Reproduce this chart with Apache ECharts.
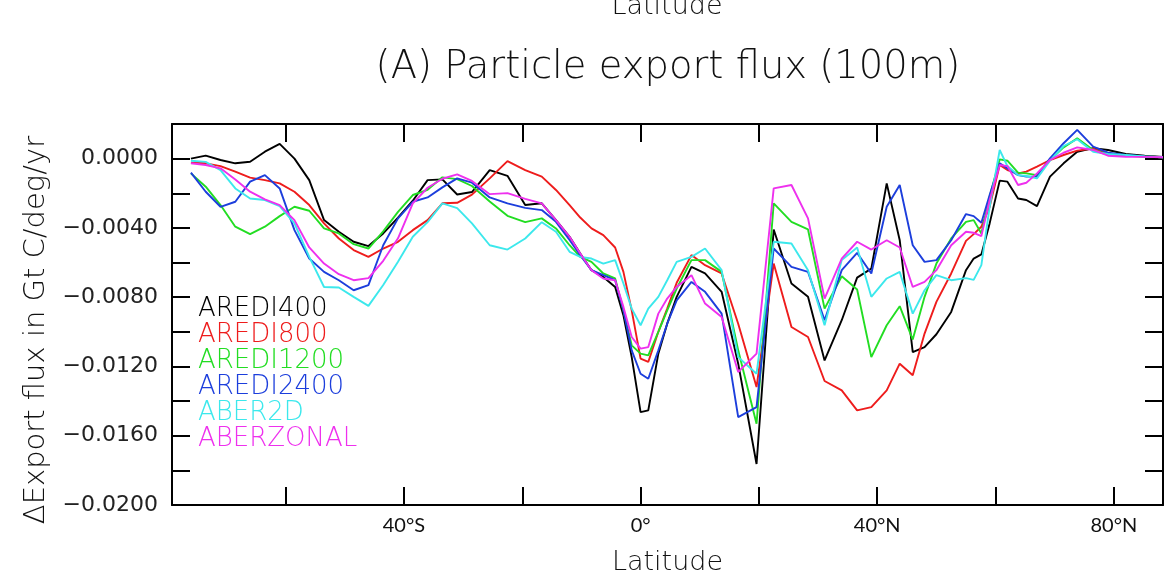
<!DOCTYPE html>
<html>
<head>
<meta charset="utf-8">
<script src="https://cdn.jsdelivr.net/npm/echarts@6/dist/echarts.min.js"></script>
<style>
html,body{margin:0;padding:0;background:#fff;}
#chart{width:1172px;height:577px;}
</style>
</head>
<body>
<div id="chart"></div>
<script>
// Latitudes (degrees, negative = south)
const lats = [-76, -73.5, -71, -68.5, -66, -63.5, -61, -58.5, -56, -53.5, -51, -48.5, -46,
  -43.5, -41, -38.5, -36, -33.5, -31, -28.5, -25.5, -22.5, -19.5, -16.7, -14.3,
  -12, -10.2, -8.3, -6.3, -4.3, -2.9, -1.5, 0, 1.3, 3, 4.5, 6.1, 8.6, 10.9, 13.7, 16.5, 19.6,
  22.5, 25.5, 28.3, 31.1, 34, 36.6, 39, 41.6, 43.8, 46, 48, 50, 52.5, 55,
  56.3, 57.6, 59, 60.7, 62, 63.8, 65.2, 67, 69.2, 71.5, 73.8, 76.5, 79, 82, 85.2, 88.3];

const seriesNames = ['AREDI400', 'AREDI800', 'AREDI1200', 'AREDI2400', 'ABER2D', 'ABERZONAL'];
const seriesColors = ['#000000', '#ee1c1c', '#22dd22', '#1c3edc', '#3ce8ec', '#ee30ee'];

const aredi400 = [0.00000, 0.00017, -0.00008, -0.00027, -0.00018, 0.00040, 0.00085, 0.00000, -0.00124, -0.00355, -0.00422, -0.00480, -0.00505,
  -0.00432, -0.00341, -0.00243, -0.00124, -0.00120, -0.00207, -0.00193, -0.00066, -0.00099, -0.00268, -0.00258, -0.00355,
  -0.00451, -0.00548, -0.00644, -0.00683, -0.00741, -0.00905, -0.01146, -0.01464, -0.01454, -0.01126, -0.00953, -0.00798, -0.00625, -0.00663, -0.00769, -0.01184, -0.01763,
  -0.00409, -0.00721, -0.00798, -0.01165, -0.00933, -0.00687, -0.00635, -0.00143, -0.00471, -0.01117, -0.01088, -0.01014, -0.00885, -0.00644,
  -0.00577, -0.00553, -0.00374, -0.00127, -0.00133, -0.00230, -0.00239, -0.00274, -0.00104, -0.00027, 0.00040, 0.00061, 0.00050, 0.00027, 0.00017, 0.00010];

const aredi800 = [-0.00023, -0.00027, -0.00043, -0.00075, -0.00110, -0.00124, -0.00143, -0.00191, -0.00268, -0.00374, -0.00461, -0.00528, -0.00567,
  -0.00519, -0.00480, -0.00413, -0.00355, -0.00258, -0.00255, -0.00208, -0.00114, -0.00014, -0.00066, -0.00104, -0.00181,
  -0.00268, -0.00340, -0.00403, -0.00442, -0.00513, -0.00654, -0.00876, -0.01155, -0.01174, -0.01000, -0.00866, -0.00717, -0.00557, -0.00615, -0.00663, -0.00953, -0.01319,
  -0.00606, -0.00972, -0.01030, -0.01284, -0.01338, -0.01454, -0.01435, -0.01338, -0.01184, -0.01251, -0.01010, -0.00827, -0.00663, -0.00475,
  -0.00436, -0.00393, -0.00278, -0.00037, -0.00066, -0.00085, -0.00075, -0.00046, -0.00008, 0.00021, 0.00046, 0.00058, 0.00031, 0.00017, 0.00012, 0.00008];

const aredi1200 = [-0.00085, -0.00162, -0.00268, -0.00393, -0.00436, -0.00393, -0.00332, -0.00278, -0.00301, -0.00403, -0.00432, -0.00494, -0.00519,
  -0.00420, -0.00307, -0.00210, -0.00180, -0.00108, -0.00118, -0.00158, -0.00247, -0.00330, -0.00367, -0.00345, -0.00403,
  -0.00500, -0.00567, -0.00596, -0.00663, -0.00692, -0.00876, -0.01078, -0.01126, -0.01136, -0.01000, -0.00876, -0.00750, -0.00586, -0.00586, -0.00654, -0.01107, -0.01531,
  -0.00258, -0.00365, -0.00409, -0.00866, -0.00679, -0.00756, -0.01146, -0.00962, -0.00852, -0.01045, -0.00798, -0.00606, -0.00461, -0.00365,
  -0.00355, -0.00432, -0.00220, -0.00004, -0.00012, -0.00081, -0.00085, -0.00095, -0.00008, 0.00065, 0.00117, 0.00050, 0.00025, 0.00017, 0.00012, 0.00008];

const aredi2400 = [-0.00081, -0.00191, -0.00278, -0.00249, -0.00133, -0.00095, -0.00172, -0.00413, -0.00577, -0.00654, -0.00702, -0.00760, -0.00730,
  -0.00500, -0.00345, -0.00249, -0.00224, -0.00166, -0.00114, -0.00139, -0.00224, -0.00258, -0.00284, -0.00297, -0.00365,
  -0.00470, -0.00557, -0.00644, -0.00673, -0.00702, -0.00876, -0.01107, -0.01242, -0.01271, -0.01107, -0.00953, -0.00818, -0.00712, -0.00769, -0.00895, -0.01493, -0.01435,
  -0.00519, -0.00625, -0.00654, -0.00933, -0.00644, -0.00544, -0.00663, -0.00278, -0.00152, -0.00500, -0.00596, -0.00586, -0.00471, -0.00320,
  -0.00332, -0.00370, -0.00210, -0.00027, -0.00056, -0.00095, -0.00104, -0.00104, 0.00002, 0.00089, 0.00166, 0.00069, 0.00035, 0.00021, 0.00012, 0.00008];

const aber2d = [-0.00012, -0.00019, -0.00066, -0.00172, -0.00230, -0.00239, -0.00274, -0.00374, -0.00567, -0.00741, -0.00744, -0.00798, -0.00850,
  -0.00730, -0.00596, -0.00451, -0.00367, -0.00258, -0.00286, -0.00374, -0.00500, -0.00525, -0.00461, -0.00367, -0.00422,
  -0.00538, -0.00567, -0.00577, -0.00606, -0.00586, -0.00721, -0.00866, -0.00962, -0.00866, -0.00798, -0.00702, -0.00596, -0.00567, -0.00519, -0.00644, -0.01146, -0.01242,
  -0.00480, -0.00490, -0.00644, -0.00962, -0.00586, -0.00513, -0.00798, -0.00692, -0.00654, -0.00895, -0.00760, -0.00673, -0.00702, -0.00690,
  -0.00700, -0.00615, -0.00278, 0.00050, -0.00043, -0.00095, -0.00100, -0.00114, -0.00012, 0.00073, 0.00112, 0.00040, 0.00027, 0.00021, 0.00012, 0.00008];

const aberzonal = [-0.00027, -0.00037, -0.00056, -0.00120, -0.00191, -0.00235, -0.00268, -0.00355, -0.00513, -0.00606, -0.00667, -0.00702, -0.00690,
  -0.00590, -0.00460, -0.00258, -0.00168, -0.00116, -0.00091, -0.00129, -0.00205, -0.00199, -0.00232, -0.00258, -0.00355,
  -0.00451, -0.00548, -0.00644, -0.00692, -0.00702, -0.00856, -0.01030, -0.01097, -0.01088, -0.00895, -0.00808, -0.00741, -0.00673, -0.00837, -0.00914, -0.01232, -0.01126,
  -0.00172, -0.00152, -0.00345, -0.00808, -0.00577, -0.00480, -0.00525, -0.00471, -0.00513, -0.00741, -0.00712, -0.00644, -0.00500, -0.00422,
  -0.00428, -0.00447, -0.00239, -0.00037, -0.00043, -0.00152, -0.00139, -0.00085, -0.00008, 0.00034, 0.00065, 0.00050, 0.00017, 0.00011, 0.00010, 0.00008];

const seriesValues = [aredi400, aredi800, aredi1200, aredi2400, aber2d, aberzonal];

const xTickValues = [-60, -40, -20, 0, 20, 40, 60, 80];
const xLabelValues = [-40, 0, 40, 80];

const chart = echarts.init(document.getElementById('chart'), null, {renderer: 'canvas'});

const wideFont = '"DejaVu Sans", Lato, sans-serif';
const thinFont = 'Lato, "Open Sans", "DejaVu Sans", sans-serif';
const tickFont = '"DejaVu Sans", "Liberation Sans", sans-serif';

function latLabel(v) {
  if (v === 0) return '0°';
  return v < 0 ? (-v) + '°S' : v + '°N';
}
function yLabel(v) {
  const k = Math.round(v / 0.002);
  if (k % 2 !== 0 || k > 0) return '';
  const s = Math.abs(v).toFixed(4);
  return k < 0 ? '\u2212' + s : s;
}

const xCommon = {
  type: 'value', min: -79.2, max: 88.3,
  axisLine: {show: true, onZero: false, lineStyle: {color: '#000', width: 2}},
  axisTick: {show: true, inside: true, length: 18, customValues: xTickValues, lineStyle: {color: '#000', width: 2}},
  splitLine: {show: false}
};
const yCommon = {
  type: 'value', min: -0.02, max: 0.002, interval: 0.002,
  axisLine: {show: true, onZero: false, lineStyle: {color: '#000', width: 2}},
  axisTick: {show: true, inside: true, length: 18, lineStyle: {color: '#000', width: 2}},
  splitLine: {show: false}
};

const option = {
  backgroundColor: '#ffffff',
  animation: false,
  title: {
    text: '(A) Particle export flux (100m)',
    left: 663, top: 43, textAlign: 'center',
    textStyle: {fontFamily: wideFont, fontWeight: 200, fontSize: 38.5, color: '#111'}
  },
  grid: {left: 172, top: 124, width: 991, height: 381, containLabel: false, outerBoundsMode: 'none'},
  legend: {
    orient: 'vertical', left: 188, top: 291, selectedMode: false,
    icon: 'none', itemWidth: 0, itemHeight: 14, itemGap: 0,
    textStyle: {fontFamily: wideFont, fontWeight: 200, fontSize: 26, lineHeight: 26},
    data: seriesNames.map((n, i) => ({name: n, textStyle: {color: seriesColors[i]}}))
  },
  xAxis: [
    Object.assign({}, xCommon, {
      position: 'bottom',
      name: 'Latitude', nameLocation: 'middle', nameGap: 44,
      nameTextStyle: {fontFamily: wideFont, fontWeight: 200, fontSize: 27, color: '#111'},
      axisLabel: {show: true, customValues: xLabelValues, formatter: latLabel, margin: 11,
        fontFamily: thinFont, fontWeight: 400, fontSize: 20, color: '#111'}
    }),
    Object.assign({}, xCommon, {position: 'top', axisLabel: {show: false}})
  ],
  yAxis: [
    Object.assign({}, yCommon, {
      position: 'left',
      axisLabel: {show: true, formatter: yLabel, margin: 14, fontFamily: tickFont, fontSize: 22, color: '#222'}
    }),
    Object.assign({}, yCommon, {position: 'right', axisLabel: {show: false}})
  ],
  graphic: [
    {
      type: 'text', x: 36, y: 330, rotation: Math.PI / 2,
      style: {text: '\u0394Export flux in Gt C/deg/yr', fontFamily: wideFont, fontWeight: 200, fontSize: 29,
        fill: '#111', textAlign: 'center', textVerticalAlign: 'middle'}
    },
    {
      type: 'text', x: 667, y: 7,
      style: {text: 'Latitude', fontFamily: wideFont, fontWeight: 200, fontSize: 27,
        fill: '#111', textAlign: 'center', textVerticalAlign: 'middle'}
    }
  ],
  series: seriesNames.map((n, i) => ({
    name: n, type: 'line', xAxisIndex: 0, yAxisIndex: 0,
    showSymbol: false, symbol: 'none', smooth: false,
    lineStyle: {color: seriesColors[i], width: 1.9},
    itemStyle: {color: seriesColors[i]},
    data: lats.map((x, j) => [x, seriesValues[i][j]])
  }))
};
chart.setOption(option);
</script>
</body>
</html>
